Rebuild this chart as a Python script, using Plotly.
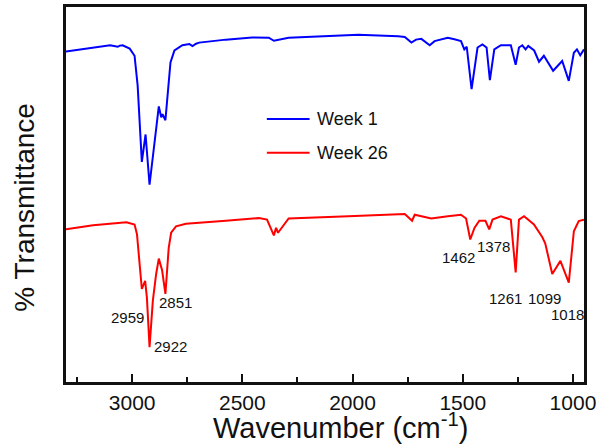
import plotly.graph_objects as go

# Week 1 spectrum (wavenumber, arbitrary % transmittance scale)
wn_week1 = [3300, 3100, 3065, 3056, 3043, 3025, 3011, 2989, 2975, 2956, 2939, 2921, 2899, 2879,
            2868, 2862, 2849, 2839, 2826, 2808, 2772, 2740, 2726, 2710, 2696, 2575, 2456, 2380,
            2357, 2290, 2124, 2019, 1974, 1793, 1763, 1733, 1712, 1688, 1650, 1628, 1568, 1538,
            1508, 1493, 1482, 1460, 1433, 1411, 1392, 1377, 1357, 1327, 1282, 1260, 1245, 1230,
            1215, 1203, 1176, 1154, 1132, 1090, 1049, 1019, 996, 982, 967, 950]
t_week1 = [88.1, 89.8, 89.4, 89.7, 89.8, 89.3, 88.9, 87.0, 79.1, 58.7, 66.0, 52.6, 64.0, 73.5,
           70.6, 71.4, 69.8, 76.5, 85.2, 88.4, 89.8, 90.1, 89.6, 90.2, 90.5, 91.3, 91.9, 91.8,
           91.0, 91.8, 92.2, 92.5, 92.6, 92.2, 92.0, 90.5, 91.3, 91.5, 89.8, 90.9, 91.8, 91.4,
           90.9, 88.7, 89.4, 78.1, 89.2, 90.0, 89.2, 80.5, 88.7, 89.8, 89.8, 84.6, 89.2, 89.8,
           88.7, 89.6, 88.4, 85.4, 87.0, 83.0, 85.6, 80.3, 87.8, 88.7, 87.1, 88.7]

# Week 26 spectrum
wn_week26 = [3300, 3177, 3026, 2989, 2978, 2966, 2956, 2941, 2933, 2921, 2906, 2891, 2879, 2864,
             2849, 2834, 2823, 2801, 2756, 2575, 2425, 2388, 2372, 2357, 2347, 2338, 2290, 2124,
             2019, 1763, 1730, 1718, 1643, 1568, 1508, 1485, 1466, 1447, 1425, 1397, 1380, 1365,
             1327, 1282, 1260, 1245, 1222, 1177, 1139, 1126, 1094, 1057, 1019, 996, 974, 950]
t_week26 = [40.7, 41.8, 42.6, 42.0, 39.4, 31.5, 24.8, 27.0, 22.5, 9.3, 21.7, 28.8, 32.9, 29.8,
            23.5, 35.8, 39.8, 41.5, 42.2, 43.0, 43.7, 43.3, 41.1, 39.1, 41.1, 39.8, 43.6, 43.9,
            44.2, 44.8, 43.0, 44.6, 43.6, 44.2, 44.6, 43.6, 38.0, 41.1, 43.0, 43.0, 40.7, 43.3,
            44.2, 43.3, 29.2, 43.3, 44.2, 42.0, 38.6, 37.0, 28.8, 32.3, 26.5, 40.2, 42.9, 43.3]

series_names = ["Week 1", "Week 26"]
series_colors = ["#0000FF", "#FF0000"]

peak_labels = ["2959", "2922", "2851", "1462", "1378", "1261", "1099", "1018"]
peak_label_x = [3020, 2828, 2802, 1518, 1360, 1306, 1130, 1027]
peak_label_y = [17.2, 9.6, 21.1, 33.3, 36.1, 22.4, 22.4, 18.0]

major_ticks = [3000, 2500, 2000, 1500, 1000]
minor_ticks = [3250, 2750, 2250, 1750, 1250]

FONT = "Arial, 'Liberation Sans', sans-serif"

fig = go.Figure()
for wn, t, name, col in [(wn_week1, t_week1, series_names[0], series_colors[0]),
                         (wn_week26, t_week26, series_names[1], series_colors[1])]:
    fig.add_trace(go.Scatter(x=wn, y=t, mode="lines", name=name,
                             line=dict(color=col, width=2), showlegend=False))

annotations = []
for txt, x, y in zip(peak_labels, peak_label_x, peak_label_y):
    annotations.append(dict(x=x, y=y, xref="x", yref="y", text=txt, showarrow=False,
                            font=dict(family=FONT, size=15, color="#111")))

# manual legend
W, H = 600, 446
L, R, T, B = 66, 13, 4, 64
pw, ph = W - L - R, H - T - B
def px(x): return (x - L) / pw
def py(y): return (H - B - y) / ph

shapes = []
for i, (name, col) in enumerate(zip(series_names, series_colors)):
    yy = 117 + i * 34
    shapes.append(dict(type="line", xref="paper", yref="paper", x0=px(268), x1=px(311),
                       y0=py(yy), y1=py(yy), line=dict(color=col, width=2)))
    annotations.append(dict(x=px(316), y=py(yy), xref="paper", yref="paper", text=name,
                            showarrow=False, xanchor="left", yanchor="middle",
                            font=dict(family=FONT, size=18, color="#111")))

annotations.append(dict(x=px(342), y=py(446), xref="paper", yref="paper",
                        text="Wavenumber (cm<sup>-1</sup>)", showarrow=False,
                        xanchor="center", yanchor="bottom", borderpad=0,
                        font=dict(family=FONT, size=29, color="#111")))
annotations.append(dict(x=px(24), y=py(206), xref="paper", yref="paper",
                        text="% Transmittance", showarrow=False, textangle=-90,
                        xanchor="center", yanchor="middle",
                        font=dict(family=FONT, size=28, color="#111")))

fig.update_layout(
    width=W, height=H,
    margin=dict(l=L, r=R, t=T, b=B),
    paper_bgcolor="white", plot_bgcolor="white",
    showlegend=False,
    annotations=annotations, shapes=shapes,
    xaxis=dict(range=[3300, 950], tickvals=major_ticks, ticktext=[str(v) for v in major_ticks],
               ticks="inside", ticklen=8, tickwidth=2, tickcolor="#111",
               showline=True, linecolor="#111", linewidth=2.5, mirror=True,
               showgrid=False, zeroline=False,
               tickfont=dict(family=FONT, size=21, color="#111"),
               minor=dict(tickvals=minor_ticks, ticks="inside", ticklen=5, tickwidth=2,
                          tickcolor="#111", showgrid=False)),
    yaxis=dict(range=[0, 100], showticklabels=False, ticks="",
               showline=True, linecolor="#111", linewidth=2.5, mirror=True,
               showgrid=False, zeroline=False),
)

fig.write_html("out.html", config={"displayModeBar": False},
               post_script="document.body.style.margin='0';document.body.style.overflow='hidden';")
